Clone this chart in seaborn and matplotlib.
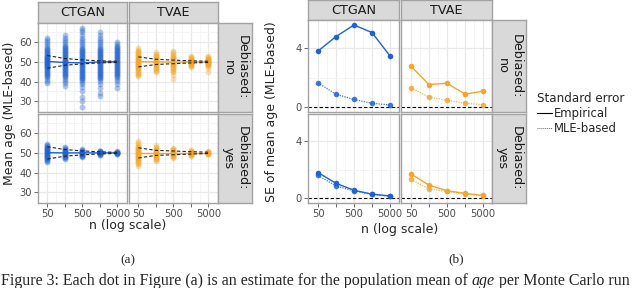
import numpy as np
import pandas as pd
import matplotlib
matplotlib.use("Agg")
import matplotlib.pyplot as plt
from matplotlib.lines import Line2D
import seaborn as sns

# sample sizes (log spaced)
n_values = [50, 158, 500, 1581, 5000]
n_labels = ["50", "", "500", "", "5000"]
models = ["CTGAN", "TVAE"]
debias_levels = ["no", "yes"]
true_mean = 50

# per-run estimates of mean age, one list per n
ctgan_no_runs = [
    [39.5, 40.5, 41.5, 42.5, 43, 43.5, 44, 44.5, 45, 45.5, 46, 46.5, 47, 47.3, 47.6, 48, 48.3, 48.6,
     49, 49.3, 49.6, 50, 50.3, 50.6, 51, 51.3, 51.6, 52, 52.3, 52.6, 53, 53.5, 54, 54.5, 55, 55.5,
     56, 56.5, 57, 58, 59, 60, 61, 62],
    [38, 39.5, 40.5, 41.5, 42.5, 43, 43.5, 44, 44.5, 45, 45.5, 46, 46.5, 47, 47.5, 48, 48.3, 48.6,
     49, 49.3, 49.6, 50, 50.3, 50.6, 51, 51.5, 52, 52.5, 53, 53.5, 54, 54.5, 55, 55.5, 56, 56.5,
     57, 57.5, 58, 59, 60, 61, 62, 63.5],
    [27, 30, 32, 35, 37.5, 39, 40, 41, 41.5, 42, 42.5, 43, 43.5, 44, 44.5, 45, 45.5, 46, 46.5, 47,
     47.5, 48, 48.5, 49, 49.5, 50, 50.5, 51, 51.5, 52, 52.5, 53, 53.5, 54, 54.5, 55, 55.5, 56, 56.5,
     57, 58, 59, 60, 61, 62, 63.5, 65, 66, 67],
    [32.5, 34, 37, 39, 40.5, 41.5, 42, 42.5, 43, 43.5, 44, 44.5, 45, 45.5, 46, 46.5, 47, 47.5, 48,
     48.5, 49, 49.5, 50, 50.5, 51, 51.5, 52, 52.5, 53, 53.5, 54, 54.5, 55, 55.5, 56, 56.5, 57, 58,
     59, 60, 61, 62, 63.5, 65],
    [37, 39, 40.5, 41.5, 42.5, 43, 43.5, 44, 44.5, 45, 45.5, 46, 46.5, 47, 47.5, 48, 48.5, 49, 49.5,
     50, 50.5, 51, 51.5, 52, 52.5, 53, 53.5, 54, 54.5, 55, 55.5, 56, 56.5, 57, 57.5, 58, 59, 60],
]
tvae_no_runs = [
    [43, 43.5, 44, 44.5, 45, 45.5, 46, 46.5, 47, 47.3, 47.6, 48, 48.3, 48.6, 49, 49.3, 49.6, 50,
     50.3, 50.6, 51, 51.3, 51.6, 52, 52.5, 53, 53.5, 54, 54.5, 55, 55.5, 56, 57],
    [45, 45.5, 46, 46.5, 47, 47.5, 48, 48.3, 48.6, 49, 49.3, 49.6, 50, 50.3, 50.6, 51, 51.3, 51.6,
     52, 52.5, 53, 53.5, 54, 55],
    [41.5, 43.5, 45, 45.5, 46, 46.5, 47, 47.5, 48, 48.3, 48.6, 49, 49.3, 49.6, 50, 50.3, 50.6, 51,
     51.3, 51.6, 52, 52.5, 53, 53.5, 54, 55, 55.5],
    [47.5, 48, 48.3, 48.6, 49, 49.2, 49.4, 49.6, 49.8, 50, 50.2, 50.4, 50.6, 50.8, 51, 51.3, 51.6,
     52, 52.5, 53],
    [45, 47, 48, 48.3, 48.6, 49, 49.2, 49.4, 49.6, 49.8, 50, 50.2, 50.4, 50.6, 50.8, 51, 51.3, 51.6,
     52, 52.5, 53],
]
ctgan_yes_runs = [
    [45.5, 46, 46.5, 47, 47.3, 47.6, 48, 48.3, 48.6, 49, 49.3, 49.6, 50, 50.3, 50.6, 51, 51.3, 51.6,
     52, 52.3, 52.6, 53, 53.5, 54, 54.5],
    [47, 47.5, 47.8, 48.1, 48.4, 48.7, 49, 49.3, 49.6, 50, 50.3, 50.6, 51, 51.3, 51.6, 52, 52.5, 53],
    [48, 48.3, 48.6, 48.9, 49.1, 49.3, 49.5, 49.7, 50, 50.2, 50.4, 50.6, 50.8, 51.1, 51.5, 52],
    [48.8, 49.1, 49.3, 49.5, 49.7, 49.9, 50, 50.1, 50.3, 50.5, 50.7, 50.9, 51.2],
    [49.3, 49.5, 49.7, 49.9, 50, 50.1, 50.3, 50.5, 50.7],
]
tvae_yes_runs = [
    [43.5, 44.5, 45, 45.5, 46, 46.5, 47, 47.3, 47.6, 48, 48.3, 48.6, 49, 49.3, 49.6, 50, 50.3, 50.6,
     51, 51.3, 51.6, 52, 52.3, 52.6, 53, 53.5, 54, 55, 56],
    [46, 46.5, 47, 47.5, 47.8, 48.1, 48.4, 48.7, 49, 49.3, 49.6, 50, 50.3, 50.6, 51, 51.3, 51.6, 52,
     52.5, 53, 54],
    [47.5, 48, 48.3, 48.6, 48.9, 49.2, 49.5, 49.8, 50, 50.2, 50.5, 50.8, 51.1, 51.4, 51.7, 52, 52.5],
    [48.5, 48.8, 49.1, 49.3, 49.5, 49.7, 49.9, 50, 50.1, 50.3, 50.5, 50.7, 51, 51.5],
    [49.2, 49.4, 49.6, 49.8, 50, 50.2, 50.4, 50.6, 50.8],
]

# average estimate per n (solid coloured line in panel a)
ctgan_no_mean = [50.2, 49.7, 49.5, 50.0, 50.0]
tvae_no_mean = [50.1, 50.0, 49.9, 50.0, 50.0]
ctgan_yes_mean = [50.1, 50.0, 50.0, 50.0, 50.0]
tvae_yes_mean = [50.0, 50.0, 50.0, 50.0, 50.0]

# standard errors (panel b)
se_emp_ctgan_no = [3.8, 4.78, 5.56, 5.05, 3.47]
se_mle_ctgan_no = [1.64, 0.87, 0.52, 0.26, 0.15]
se_emp_tvae_no = [2.77, 1.53, 1.62, 0.88, 1.08]
se_mle_tvae_no = [1.3, 0.68, 0.46, 0.27, 0.16]
se_emp_ctgan_yes = [1.8, 1.05, 0.56, 0.29, 0.16]
se_mle_ctgan_yes = [1.6, 0.86, 0.52, 0.27, 0.15]
se_emp_tvae_yes = [1.7, 0.92, 0.53, 0.34, 0.2]
se_mle_tvae_yes = [1.32, 0.65, 0.49, 0.3, 0.17]

runs = {("CTGAN", "no"): ctgan_no_runs, ("TVAE", "no"): tvae_no_runs,
        ("CTGAN", "yes"): ctgan_yes_runs, ("TVAE", "yes"): tvae_yes_runs}
means = {("CTGAN", "no"): ctgan_no_mean, ("TVAE", "no"): tvae_no_mean,
         ("CTGAN", "yes"): ctgan_yes_mean, ("TVAE", "yes"): tvae_yes_mean}
se_emp = {("CTGAN", "no"): se_emp_ctgan_no, ("TVAE", "no"): se_emp_tvae_no,
          ("CTGAN", "yes"): se_emp_ctgan_yes, ("TVAE", "yes"): se_emp_tvae_yes}
se_mle = {("CTGAN", "no"): se_mle_ctgan_no, ("TVAE", "no"): se_mle_tvae_no,
          ("CTGAN", "yes"): se_mle_ctgan_yes, ("TVAE", "yes"): se_mle_tvae_yes}

# long tables
rows = []
for key, cols in runs.items():
    for n, vals in zip(n_values, cols):
        for v in vals:
            rows.append({"model": key[0], "debiased": key[1], "n": n, "estimate": v})
est_df = pd.DataFrame(rows)

rows = []
for key in se_emp:
    for n, e, m in zip(n_values, se_emp[key], se_mle[key]):
        rows.append({"model": key[0], "debiased": key[1], "n": n, "type": "Empirical", "se": e})
        rows.append({"model": key[0], "debiased": key[1], "n": n, "type": "MLE-based", "se": m})
se_df = pd.DataFrame(rows)

# style
sns.set_theme(style="white")
plt.rcParams["font.family"] = ["DejaVu Sans"]
W, H = 640, 288
colors = {"CTGAN": "#1f62d3", "TVAE": "#f5a62a"}
BORDER = "#a3a3a3"
STRIP = "#d9d9d9"
TICKC = "#4d4d4d"


def rect(x0, y0, x1, y1):
    return [x0 / W, 1 - y1 / H, (x1 - x0) / W, (y1 - y0) / H]


def add_strip(fig, box, text, rotation=0):
    sax = fig.add_axes(rect(*box))
    sax.set_facecolor(STRIP)
    sax.set_xticks([])
    sax.set_yticks([])
    for sp in sax.spines.values():
        sp.set_color(BORDER)
        sp.set_linewidth(1.0)
    sax.text(0.5, 0.5, text, rotation=rotation, ha="center", va="center",
             fontsize=9.2, color="#1a1a1a", transform=sax.transAxes, linespacing=1.05)


def style_panel(ax, xlim, ylim, yticks, yminor, show_x, show_y):
    ax.set_xscale("log")
    ax.set_xlim(*xlim)
    ax.set_ylim(*ylim)
    ax.set_xticks(n_values)
    ax.set_xticklabels(n_labels if show_x else [""] * 5)
    mids = [np.sqrt(a * b) for a, b in zip(n_values[:-1], n_values[1:])]
    ax.set_xticks(mids, minor=True)
    ax.set_xticklabels([""] * len(mids), minor=True)
    ax.set_yticks(yticks)
    ax.set_yticklabels([str(t) for t in yticks] if show_y else [""] * len(yticks))
    ax.set_yticks(yminor, minor=True)
    ax.set_yticklabels([""] * len(yminor), minor=True)
    ax.grid(True, which="major", color="#e8e8e8", lw=0.9)
    ax.grid(True, which="minor", color="#f3f3f3", lw=0.6)
    ax.set_axisbelow(True)
    ax.tick_params(which="major", labelsize=7.2, labelcolor=TICKC, color="#555555",
                   length=3, width=0.6, pad=1.5, bottom=show_x, left=show_y)
    ax.tick_params(which="minor", length=0)
    ax.set_xlabel("")
    ax.set_ylabel("")
    for sp in ax.spines.values():
        sp.set_color(BORDER)
        sp.set_linewidth(1.0)


fig = plt.figure(figsize=(6.4, 2.88), dpi=100)

# ---- panel (a): estimates per Monte Carlo run
a_cols = [(38, 127), (129, 218)]
a_rows = [(23, 112), (114, 203)]
for j, model in enumerate(models):
    add_strip(fig, (a_cols[j][0], 2, a_cols[j][1], 23), model)
    for i, deb in enumerate(debias_levels):
        ax = fig.add_axes(rect(a_cols[j][0], a_rows[i][0], a_cols[j][1], a_rows[i][1]))
        sub = est_df[(est_df.model == model) & (est_df.debiased == deb)]
        sns.scatterplot(data=sub, x="n", y="estimate", color=colors[model], alpha=0.35,
                        s=18, linewidth=0, legend=False, ax=ax)
        sns.lineplot(x=n_values, y=means[(model, deb)], color=colors[model], lw=1.0, ax=ax)
        half = 1.96 * np.array(se_mle[(model, deb)])
        for band in (true_mean + half, true_mean - half):
            sns.lineplot(x=n_values, y=band, color="#222222", lw=0.8, ax=ax,
                         linestyle=(0, (3, 2)))
        style_panel(ax, (27.1, 9460), (24.6, 69.7), [30, 40, 50, 60], [35, 45, 55, 65],
                    show_x=(i == 1), show_y=(j == 0))
for i, deb in enumerate(debias_levels):
    add_strip(fig, (218, a_rows[i][0], 252, a_rows[i][1]), "Debiased:\n" + deb, rotation=270)

fig.text(10 / W, 1 - 113 / H, "Mean age (MLE-based)", rotation=90, ha="center", va="center", fontsize=9)
fig.text(128 / W, 1 - 226 / H, "n (log scale)", ha="center", va="center", fontsize=9)

# ---- panel (b): standard errors
b_cols = [(308, 399), (401, 492)]
b_rows = [(20, 112), (114, 203)]
for j, model in enumerate(models):
    add_strip(fig, (b_cols[j][0], 0, b_cols[j][1], 20), model)
    for i, deb in enumerate(debias_levels):
        ax = fig.add_axes(rect(b_cols[j][0], b_rows[i][0], b_cols[j][1], b_rows[i][1]))
        sub = se_df[(se_df.model == model) & (se_df.debiased == deb)]
        ax.axhline(0, color="black", lw=0.8, linestyle=(0, (3, 2)), zorder=1)
        sns.lineplot(data=sub[sub.type == "MLE-based"], x="n", y="se", color=colors[model],
                     lw=0.9, linestyle=(0, (1, 1)), marker="o", markersize=4,
                     markeredgewidth=0, alpha=0.85, ax=ax)
        sns.lineplot(data=sub[sub.type == "Empirical"], x="n", y="se", color=colors[model],
                     lw=1.0, marker="o", markersize=4, markeredgewidth=0, ax=ax)
        style_panel(ax, (26.3, 8910), (-0.33, 5.9), [0, 4], [2],
                    show_x=(i == 1), show_y=(j == 0))
for i, deb in enumerate(debias_levels):
    add_strip(fig, (492, b_rows[i][0], 526, b_rows[i][1]), "Debiased:\n" + deb, rotation=270)

fig.text(271 / W, 1 - 112 / H, "SE of mean age (MLE-based)", rotation=90, ha="center", va="center", fontsize=9)
fig.text(400 / W, 1 - 229 / H, "n (log scale)", ha="center", va="center", fontsize=9)

# legend
fig.text(537 / W, 1 - 99 / H, "Standard error", ha="left", va="center", fontsize=8.6)
for y, lab, ls in [(113, "Empirical", "-"), (128, "MLE-based", (0, (1, 1)))]:
    fig.add_artist(Line2D([537 / W, 552 / W], [1 - y / H, 1 - y / H], color="black",
                          lw=0.8 if ls == "-" else 0.7, linestyle=ls,
                          alpha=1 if ls == "-" else 0.6))
    fig.text(554 / W, 1 - y / H, lab, ha="left", va="center", fontsize=8.4)

# sub-figure captions and caption line
fig.text(128 / W, 1 - 260 / H, "(a)", ha="center", va="center", fontsize=9.5, family="Liberation Serif")
fig.text(456 / W, 1 - 259 / H, "(b)", ha="center", va="center", fontsize=9.5, family="Liberation Serif")

renderer = fig.canvas.get_renderer()
x_px = 1.0
base_y = 1 - 285 / H
for piece, style in [("Figure 3: Each dot in Figure (a) is an estimate for the population mean of ", "normal"),
                     ("age", "italic"),
                     (" per Monte Carlo run", "normal")]:
    t = fig.text(x_px / W, base_y, piece, ha="left", va="baseline", fontsize=11.5,
                 family="Liberation Serif", style=style)
    x_px += t.get_window_extent(renderer).width

fig.savefig("out.png", dpi=100)
